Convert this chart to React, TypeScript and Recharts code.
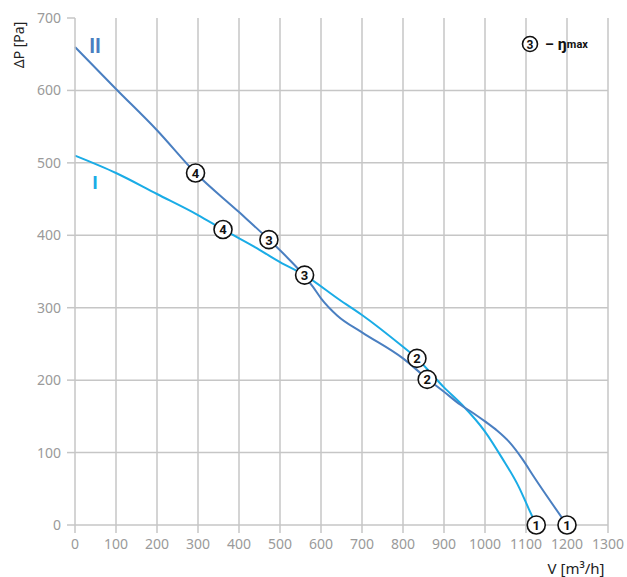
import { CartesianGrid, ComposedChart, Line, Scatter, XAxis, YAxis } from "recharts";

const xTicks = [0, 100, 200, 300, 400, 500, 600, 700, 800, 900, 1000, 1100, 1200, 1300];
const yTicks = [0, 100, 200, 300, 400, 500, 600, 700];
const gridRows = [100, 200, 300, 400, 500, 600];

// curve I (light blue)
const curveIV = [0, 100, 200, 300, 361, 450, 500, 560, 645, 700, 800, 834, 900, 944, 1000, 1041, 1083, 1107, 1125];
const curveIP = [510, 486, 457, 428, 408, 380, 363, 345, 311, 290, 246, 230, 190, 166, 129, 93, 52, 22, 0];

// curve II (dark blue)
const curveIIV = [0, 100, 200, 294, 400, 473, 520, 550, 580, 600, 640, 700, 800, 859, 900, 940, 970, 1000, 1030, 1060, 1090, 1120, 1200];
const curveIIP = [660, 602, 545, 486, 432, 394, 368, 350, 329, 313, 289, 266, 230, 202, 184, 166, 155, 143, 130, 114, 92, 66, 0];

// numbered points on each curve
const markNums = [1, 2, 3, 4];
const marksIV = [1125, 834, 560, 361];
const marksIP = [0, 230, 345, 408];
const marksIIV = [1200, 859, 473, 294];
const marksIIP = [0, 201, 394, 486];

const zip = (vs: number[], ps: number[]) => vs.map((v, i) => ({ v, p: ps[i] }));
const curveI = zip(curveIV, curveIP);
const curveII = zip(curveIIV, curveIIP);
const marksI = markNums.map((n, i) => ({ n, v: marksIV[i], p: marksIP[i] }));
const marksII = markNums.map((n, i) => ({ n, v: marksIIV[i], p: marksIIP[i] }));

const LIGHT = "#1aace6";
const DARK = "#4a7fc1";
const GRID = "#c6c6c6";
const TICK = "#9a9a9a";
const FONT = "'Noto Sans', sans-serif";
const BOLD = "Roboto, 'DejaVu Sans', sans-serif";

function Marker(props: any) {
  const { cx, cy, payload } = props;
  if (cx == null || cy == null) return null;
  return (
    <g>
      <circle cx={cx} cy={cy} r={9} fill="#fff" stroke="#111" strokeWidth={1.6} />
      <text x={cx} y={cy + 0.5} textAnchor="middle" dominantBaseline="central" fontSize={13} fontWeight={700} fill="#111" fontFamily={BOLD}>
        {payload.n}
      </text>
    </g>
  );
}

export default function App() {
  return (
    <div style={{ position: "fixed", left: 0, top: 0, width: 627, height: 577, fontFamily: FONT, background: "#fff" }}>
      <ComposedChart width={627} height={577} margin={{ top: 18, right: 19, bottom: 22, left: 0 }}>
        <CartesianGrid stroke={GRID} strokeWidth={1.5} horizontalValues={gridRows} verticalValues={xTicks.slice(1)} />
        <XAxis
          dataKey="v"
          type="number"
          domain={[0, 1300]}
          ticks={xTicks}
          interval={0}
          height={30}
          tickSize={8}
          tickMargin={6}
          stroke={GRID}
          strokeWidth={1.5}
          tick={{ fill: TICK, fontSize: 14, fontFamily: FONT }}
        />
        <YAxis
          type="number"
          domain={[0, 700]}
          ticks={yTicks}
          interval={0}
          width={75}
          tickSize={8}
          tickMargin={6}
          stroke={GRID}
          strokeWidth={1.5}
          tick={{ fill: TICK, fontSize: 14, fontFamily: FONT }}
        />
        <Line data={curveI} dataKey="p" type="monotone" stroke={LIGHT} strokeWidth={2} dot={false} isAnimationActive={false} />
        <Line data={curveII} dataKey="p" type="monotone" stroke={DARK} strokeWidth={2} dot={false} isAnimationActive={false} />
        <Scatter data={marksI} dataKey="p" shape={Marker} isAnimationActive={false} />
        <Scatter data={marksII} dataKey="p" shape={Marker} isAnimationActive={false} />
      </ComposedChart>
      <svg width={627} height={577} style={{ position: "absolute", left: 0, top: 0, pointerEvents: "none" }}>
        <text x={18} y={45} transform="rotate(-90 18 45)" textAnchor="middle" dominantBaseline="central" fontSize={14} fill="#222" fontFamily={FONT}>
          ΔP [Pa]
        </text>
        <text x={576} y={568} textAnchor="middle" dominantBaseline="central" fontSize={15} fill="#222" fontFamily={FONT}>
          V [m³/h]
        </text>
        <text x={95} y={46} textAnchor="middle" dominantBaseline="central" fontSize={20} fontWeight={700} fill={DARK} fontFamily={BOLD}>
          II
        </text>
        <text x={95} y={182} textAnchor="middle" dominantBaseline="central" fontSize={19} fontWeight={700} fill={LIGHT} fontFamily={BOLD}>
          I
        </text>
        <circle cx={530} cy={44} r={7.5} fill="#fff" stroke="#111" strokeWidth={1.6} />
        <text x={530} y={44.5} textAnchor="middle" dominantBaseline="central" fontSize={12} fontWeight={700} fill="#111" fontFamily={BOLD}>
          3
        </text>
        <text x={545} y={44} dominantBaseline="central" fontWeight={700} fill="#111" fontFamily={BOLD}>
          <tspan fontSize={14}>–</tspan>
          <tspan fontSize={16} dx={4}>ŋ</tspan>
          <tspan fontSize={11}>max</tspan>
        </text>
      </svg>
    </div>
  );
}
